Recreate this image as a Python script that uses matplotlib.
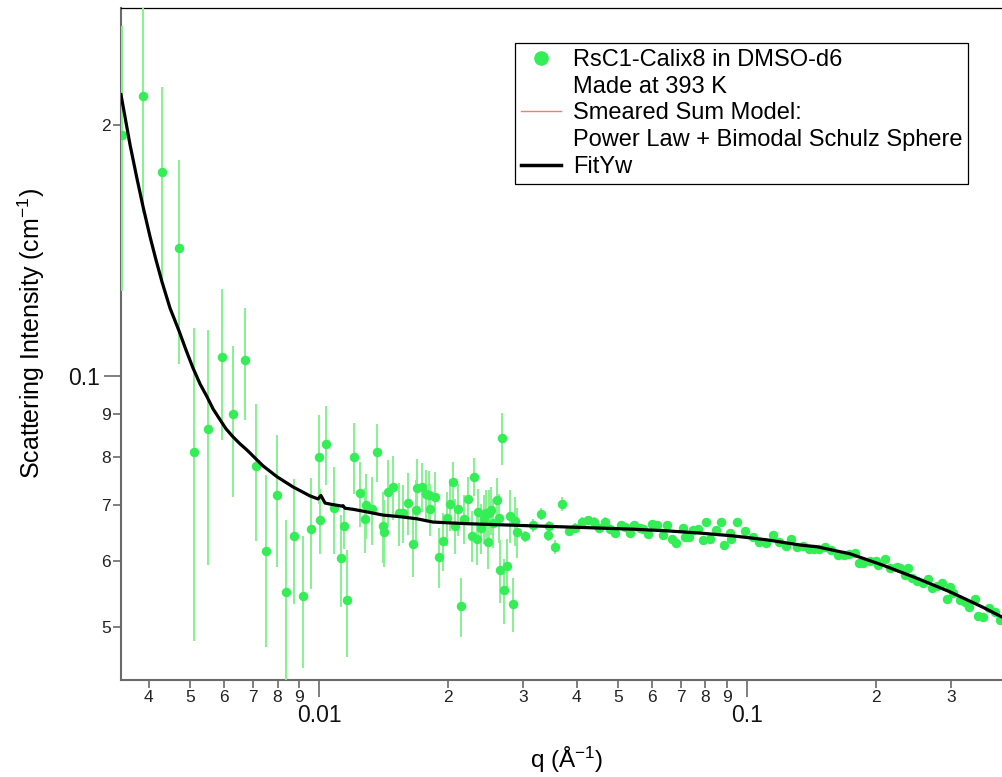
import numpy as np
import matplotlib
matplotlib.use('Agg')
import matplotlib.pyplot as plt
from matplotlib.lines import Line2D
from matplotlib.ticker import FixedLocator, FixedFormatter

plt.rcParams['font.family'] = ['Liberation Sans', 'DejaVu Sans']
plt.rcParams['mathtext.default'] = 'regular'

# low-q detector setting (large error bars)
q1 = [0.003465, 0.00388, 0.004297, 0.004709, 0.005104, 0.005504, 0.005934, 0.006297,
      0.006715, 0.007124, 0.007518, 0.007977, 0.008373, 0.008742, 0.009176, 0.009579,
      0.0100, 0.010054, 0.010384, 0.01084, 0.011257, 0.01144, 0.011627, 0.012071,
      0.012468, 0.012808, 0.012877, 0.013301, 0.013664, 0.014112, 0.01415, 0.014497,
      0.014893, 0.015381, 0.015714, 0.016141, 0.016582, 0.016852, 0.016943, 0.017406,
      0.017783, 0.018072, 0.018169, 0.018664, 0.01907, 0.019485, 0.01991, 0.020234,
      0.020563, 0.020785, 0.021124, 0.021468, 0.021817, 0.022291, 0.022777, 0.023024,
      0.0234, 0.023526, 0.023909, 0.024298, 0.024561, 0.024827, 0.02495, 0.025231,
      0.025503, 0.026058, 0.026339, 0.026484, 0.02677, 0.02706, 0.027502, 0.02795,
      0.028404, 0.028711, 0.02902]
i1 = [0.1945, 0.2167, 0.1757, 0.1424, 0.0811, 0.0864, 0.1054, 0.0900,
      0.1045, 0.0780, 0.0617, 0.0720, 0.0551, 0.0643, 0.0545, 0.0655,
      0.0800, 0.0672, 0.0829, 0.0695, 0.0605, 0.0661, 0.0539, 0.0800,
      0.0724, 0.0674, 0.0700, 0.0692, 0.0811, 0.0661, 0.0650, 0.0726,
      0.0736, 0.0685, 0.0685, 0.0704, 0.0629, 0.0690, 0.0734, 0.0736,
      0.0722, 0.0720, 0.0692, 0.0716, 0.0607, 0.0634, 0.0676, 0.0702,
      0.0746, 0.0661, 0.0692, 0.0530, 0.0674, 0.0712, 0.0643, 0.0757,
      0.0638, 0.0687, 0.0657, 0.0674, 0.0684, 0.0632, 0.0685, 0.0690,
      0.0667, 0.0710, 0.0676, 0.0585, 0.0843, 0.0554, 0.0592, 0.0680,
      0.0533, 0.0670, 0.0650]
e1 = [0.068, 0.060, 0.046, 0.039, 0.033, 0.027, 0.0217, 0.0185,
      0.016, 0.0146, 0.0144, 0.013, 0.012, 0.011, 0.0098, 0.010,
      0.0097, 0.006, 0.009, 0.0083, 0.0076, 0.004, 0.0079, 0.0078,
      0.0065, 0.006, 0.0062, 0.0065, 0.0065, 0.0065, 0.006, 0.0066,
      0.0065, 0.006, 0.0055, 0.006, 0.0055, 0.006, 0.006, 0.005,
      0.005, 0.005, 0.005, 0.005, 0.005, 0.005, 0.005, 0.005,
      0.0042, 0.005, 0.005, 0.0043, 0.0045, 0.0045, 0.0045, 0.004,
      0.0045, 0.0045, 0.0045, 0.0045, 0.0045, 0.0045, 0.0045, 0.0045,
      0.0045, 0.0045, 0.0045, 0.005, 0.006, 0.005, 0.0045, 0.005,
      0.004, 0.0045, 0.0045]

# high-q detector setting (small error bars)
q2 = [0.030292, 0.031623, 0.033014, 0.034277, 0.03446, 0.035589, 0.036954, 0.038371,
      0.039628, 0.04115, 0.0425, 0.043893, 0.045105, 0.046583, 0.047855, 0.04916,
      0.050774, 0.05188, 0.053292, 0.05445, 0.056234, 0.057148, 0.058708, 0.059984,
      0.06162, 0.063636, 0.065035, 0.066787, 0.06824, 0.070863, 0.071627, 0.073181,
      0.074771, 0.076813, 0.078911, 0.080196, 0.081946, 0.084633, 0.086945, 0.088359,
      0.091252, 0.0918, 0.094753, 0.098924, 0.10328, 0.10667, 0.11077, 0.11501,
      0.11879, 0.12334, 0.1267, 0.13086, 0.13515, 0.1396, 0.1434, 0.1473,
      0.1521, 0.1572, 0.1632, 0.1685, 0.1731, 0.1788, 0.1827, 0.1866,
      0.1938, 0.2002, 0.2023, 0.2101, 0.2158, 0.2241, 0.2278, 0.2340,
      0.2378, 0.2430, 0.2496, 0.2578, 0.2648, 0.2706, 0.2779, 0.2855,
      0.2933, 0.2981, 0.3029, 0.3146, 0.3231, 0.3301, 0.3410, 0.3465,
      0.3560, 0.3676, 0.3796, 0.390]
i2 = [0.0642, 0.0662, 0.0683, 0.0644, 0.0660, 0.0623, 0.0702, 0.0651,
      0.0658, 0.0669, 0.0671, 0.0669, 0.0658, 0.0669, 0.0656, 0.0649,
      0.0662, 0.0659, 0.0649, 0.0662, 0.0657, 0.0655, 0.0646, 0.0665,
      0.0662, 0.0644, 0.0662, 0.0637, 0.0631, 0.0657, 0.0641, 0.0641,
      0.0653, 0.0655, 0.0636, 0.0668, 0.0637, 0.0653, 0.0669, 0.0627,
      0.0649, 0.0638, 0.0668, 0.0652, 0.0641, 0.0633, 0.0631, 0.0644,
      0.0633, 0.0626, 0.0637, 0.0624, 0.0626, 0.0620, 0.0620, 0.0620,
      0.0624, 0.0618, 0.0610, 0.0610, 0.0611, 0.0613, 0.0597, 0.0597,
      0.0600, 0.0600, 0.0593, 0.0603, 0.0589, 0.0590, 0.0589, 0.0577,
      0.0589, 0.0573, 0.0568, 0.0565, 0.0571, 0.0557, 0.0560, 0.0565,
      0.0540, 0.0558, 0.0549, 0.0539, 0.0536, 0.0528, 0.0540, 0.0516,
      0.0514, 0.0527, 0.0521, 0.0510]
e2 = [0.0010, 0.0012, 0.0012, 0.0010, 0.0010, 0.0012, 0.0013, 0.0009,
      0.0009, 0.0009, 0.0008, 0.0008, 0.0008, 0.0008, 0.0008, 0.0008,
      0.0008, 0.0008, 0.0008, 0.0007, 0.0007, 0.0007, 0.0007, 0.0007,
      0.0007, 0.0007, 0.0007, 0.0007, 0.0007, 0.0007, 0.0007, 0.0006,
      0.0006, 0.0006, 0.0006, 0.0006, 0.0006, 0.0006, 0.0006, 0.0006,
      0.0006, 0.0006, 0.0006, 0.0006, 0.0005, 0.0005, 0.0005, 0.0005,
      0.0005, 0.0005, 0.0005, 0.0005, 0.0005, 0.0005, 0.0004, 0.0004,
      0.0004, 0.0004, 0.0004, 0.0004, 0.0004, 0.0004, 0.0004, 0.0004,
      0.0004, 0.0004, 0.0004, 0.0004, 0.0004, 0.0004, 0.0004, 0.0004,
      0.0004, 0.0004, 0.0004, 0.0004, 0.0004, 0.0004, 0.0004, 0.0004,
      0.0004, 0.0004, 0.0004, 0.0004, 0.0004, 0.0004, 0.0004, 0.0004,
      0.0004, 0.0004, 0.0004, 0.0004]

# fit curve (FitYw)
q_fit = [0.003446, 0.003618, 0.003757, 0.00388, 0.004029, 0.00416, 0.004297, 0.004485,
         0.004709, 0.004889, 0.005076, 0.005272, 0.005474, 0.005654, 0.005871, 0.006063,
         0.006297, 0.006537, 0.006786, 0.0074, 0.007977, 0.008695, 0.009527, 0.00995,
         0.0101, 0.01033, 0.01061, 0.011317, 0.011378, 0.0115, 0.012006, 0.012943,
         0.01411, 0.015466, 0.016943, 0.018467, 0.022174, 0.026484, 0.031623, 0.03797,
         0.045348, 0.054163, 0.065035, 0.077672, 0.092761, 0.11138, 0.1330, 0.14575,
         0.17407, 0.20785, 0.2496, 0.2981, 0.3560, 0.3944]
i_fit = [0.2173, 0.1892, 0.1722, 0.1595, 0.1468, 0.1377, 0.1296, 0.1206,
         0.1132, 0.1074, 0.1022, 0.0978, 0.0944, 0.0913, 0.0886, 0.0864,
         0.0845, 0.0829, 0.0815, 0.0780, 0.0757, 0.0736, 0.0718, 0.0712,
         0.0719, 0.0704, 0.0702, 0.0698, 0.0699, 0.0694, 0.0692, 0.0687,
         0.0681, 0.0678, 0.0674, 0.0668, 0.0665, 0.0663, 0.0661, 0.0659,
         0.0657, 0.0655, 0.0652, 0.0648, 0.0643, 0.0636, 0.0627, 0.0624,
         0.0612, 0.0593, 0.0572, 0.0551, 0.0528, 0.0514]

green = '#33ee55'
bar_green = '#85f290'
axis_grey = '#6a6a6a'

fig = plt.figure(figsize=(10.02, 7.77), dpi=100)
ax = fig.add_axes([121 / 1002, 1 - 680 / 777, 881 / 1002, 672 / 777])

for q, i, e in [(q1, i1, e1), (q2, i2, e2)]:
    ax.errorbar(q, i, yerr=e, fmt='o', color=green, ms=5.8, mec=green,
                ecolor=bar_green, elinewidth=1.4, capsize=0, zorder=3)
ax.plot(q_fit, i_fit, color='k', lw=2.3, zorder=4, solid_joinstyle='round')

ax.set_xscale('log')
ax.set_yscale('log')
ax.set_xlim(0.003446, 0.3944)
ax.set_ylim(0.0432, 0.276)

ax.xaxis.set_major_locator(FixedLocator([0.01, 0.1]))
ax.xaxis.set_major_formatter(FixedFormatter(['0.01', '0.1']))
x_minor = [0.004, 0.005, 0.006, 0.007, 0.008, 0.009,
           0.02, 0.03, 0.04, 0.05, 0.06, 0.07, 0.08, 0.09, 0.2, 0.3]
ax.xaxis.set_minor_locator(FixedLocator(x_minor))
ax.xaxis.set_minor_formatter(FixedFormatter(['4', '5', '6', '7', '8', '9',
                                             '2', '3', '4', '5', '6', '7', '8', '9', '2', '3']))

ax.yaxis.set_major_locator(FixedLocator([0.1]))
ax.yaxis.set_major_formatter(FixedFormatter(['0.1']))
ax.yaxis.set_minor_locator(FixedLocator([0.05, 0.06, 0.07, 0.08, 0.09, 0.2]))
ax.yaxis.set_minor_formatter(FixedFormatter(['5', '6', '7', '8', '9', '2']))

ax.tick_params(which='major', length=12, width=1.2, color=axis_grey, labelsize=16.5,
               labelcolor='#111111')
ax.tick_params(which='minor', length=6, width=1.2, color=axis_grey, labelsize=12.5,
               labelcolor='#222222', pad=1.5)
ax.tick_params(axis='x', which='major', pad=5)
ax.tick_params(axis='y', which='major', pad=3)

for side in ['left', 'bottom']:
    ax.spines[side].set_color(axis_grey)
    ax.spines[side].set_linewidth(1.5)
ax.spines['top'].set_linewidth(0.9)
ax.spines['right'].set_visible(False)

ax.set_ylabel('Scattering Intensity (cm$^{-1}$)', fontsize=18)
ax.set_xlabel('q (Å$^{-1}$)', fontsize=17.5)
ax.yaxis.set_label_coords(-0.084, 0.516)
ax.xaxis.set_label_coords(0.506, -0.097)

handles = [Line2D([], [], marker='o', ls='none', color=green, ms=9.5),
           Line2D([], [], ls='none'),
           Line2D([], [], color='#f07b7b', lw=1.0),
           Line2D([], [], ls='none'),
           Line2D([], [], color='k', lw=2.5)]
labels = ['RsC1-Calix8 in DMSO-d6', 'Made at 393 K', 'Smeared Sum Model:',
          'Power Law + Bimodal Schulz Sphere', 'FitYw']
leg = ax.legend(handles, labels, loc='upper left',
                bbox_to_anchor=(515 / 1002, 1 - 43 / 777),
                bbox_transform=fig.transFigure, fontsize=17, frameon=True,
                fancybox=False, framealpha=1, edgecolor='k', borderpad=0.25,
                labelspacing=0.2, handlelength=1.7, handletextpad=0.5,
                borderaxespad=0)
leg.get_frame().set_linewidth(0.9)
leg.set_zorder(10)

fig.savefig('out.png', dpi=100)
